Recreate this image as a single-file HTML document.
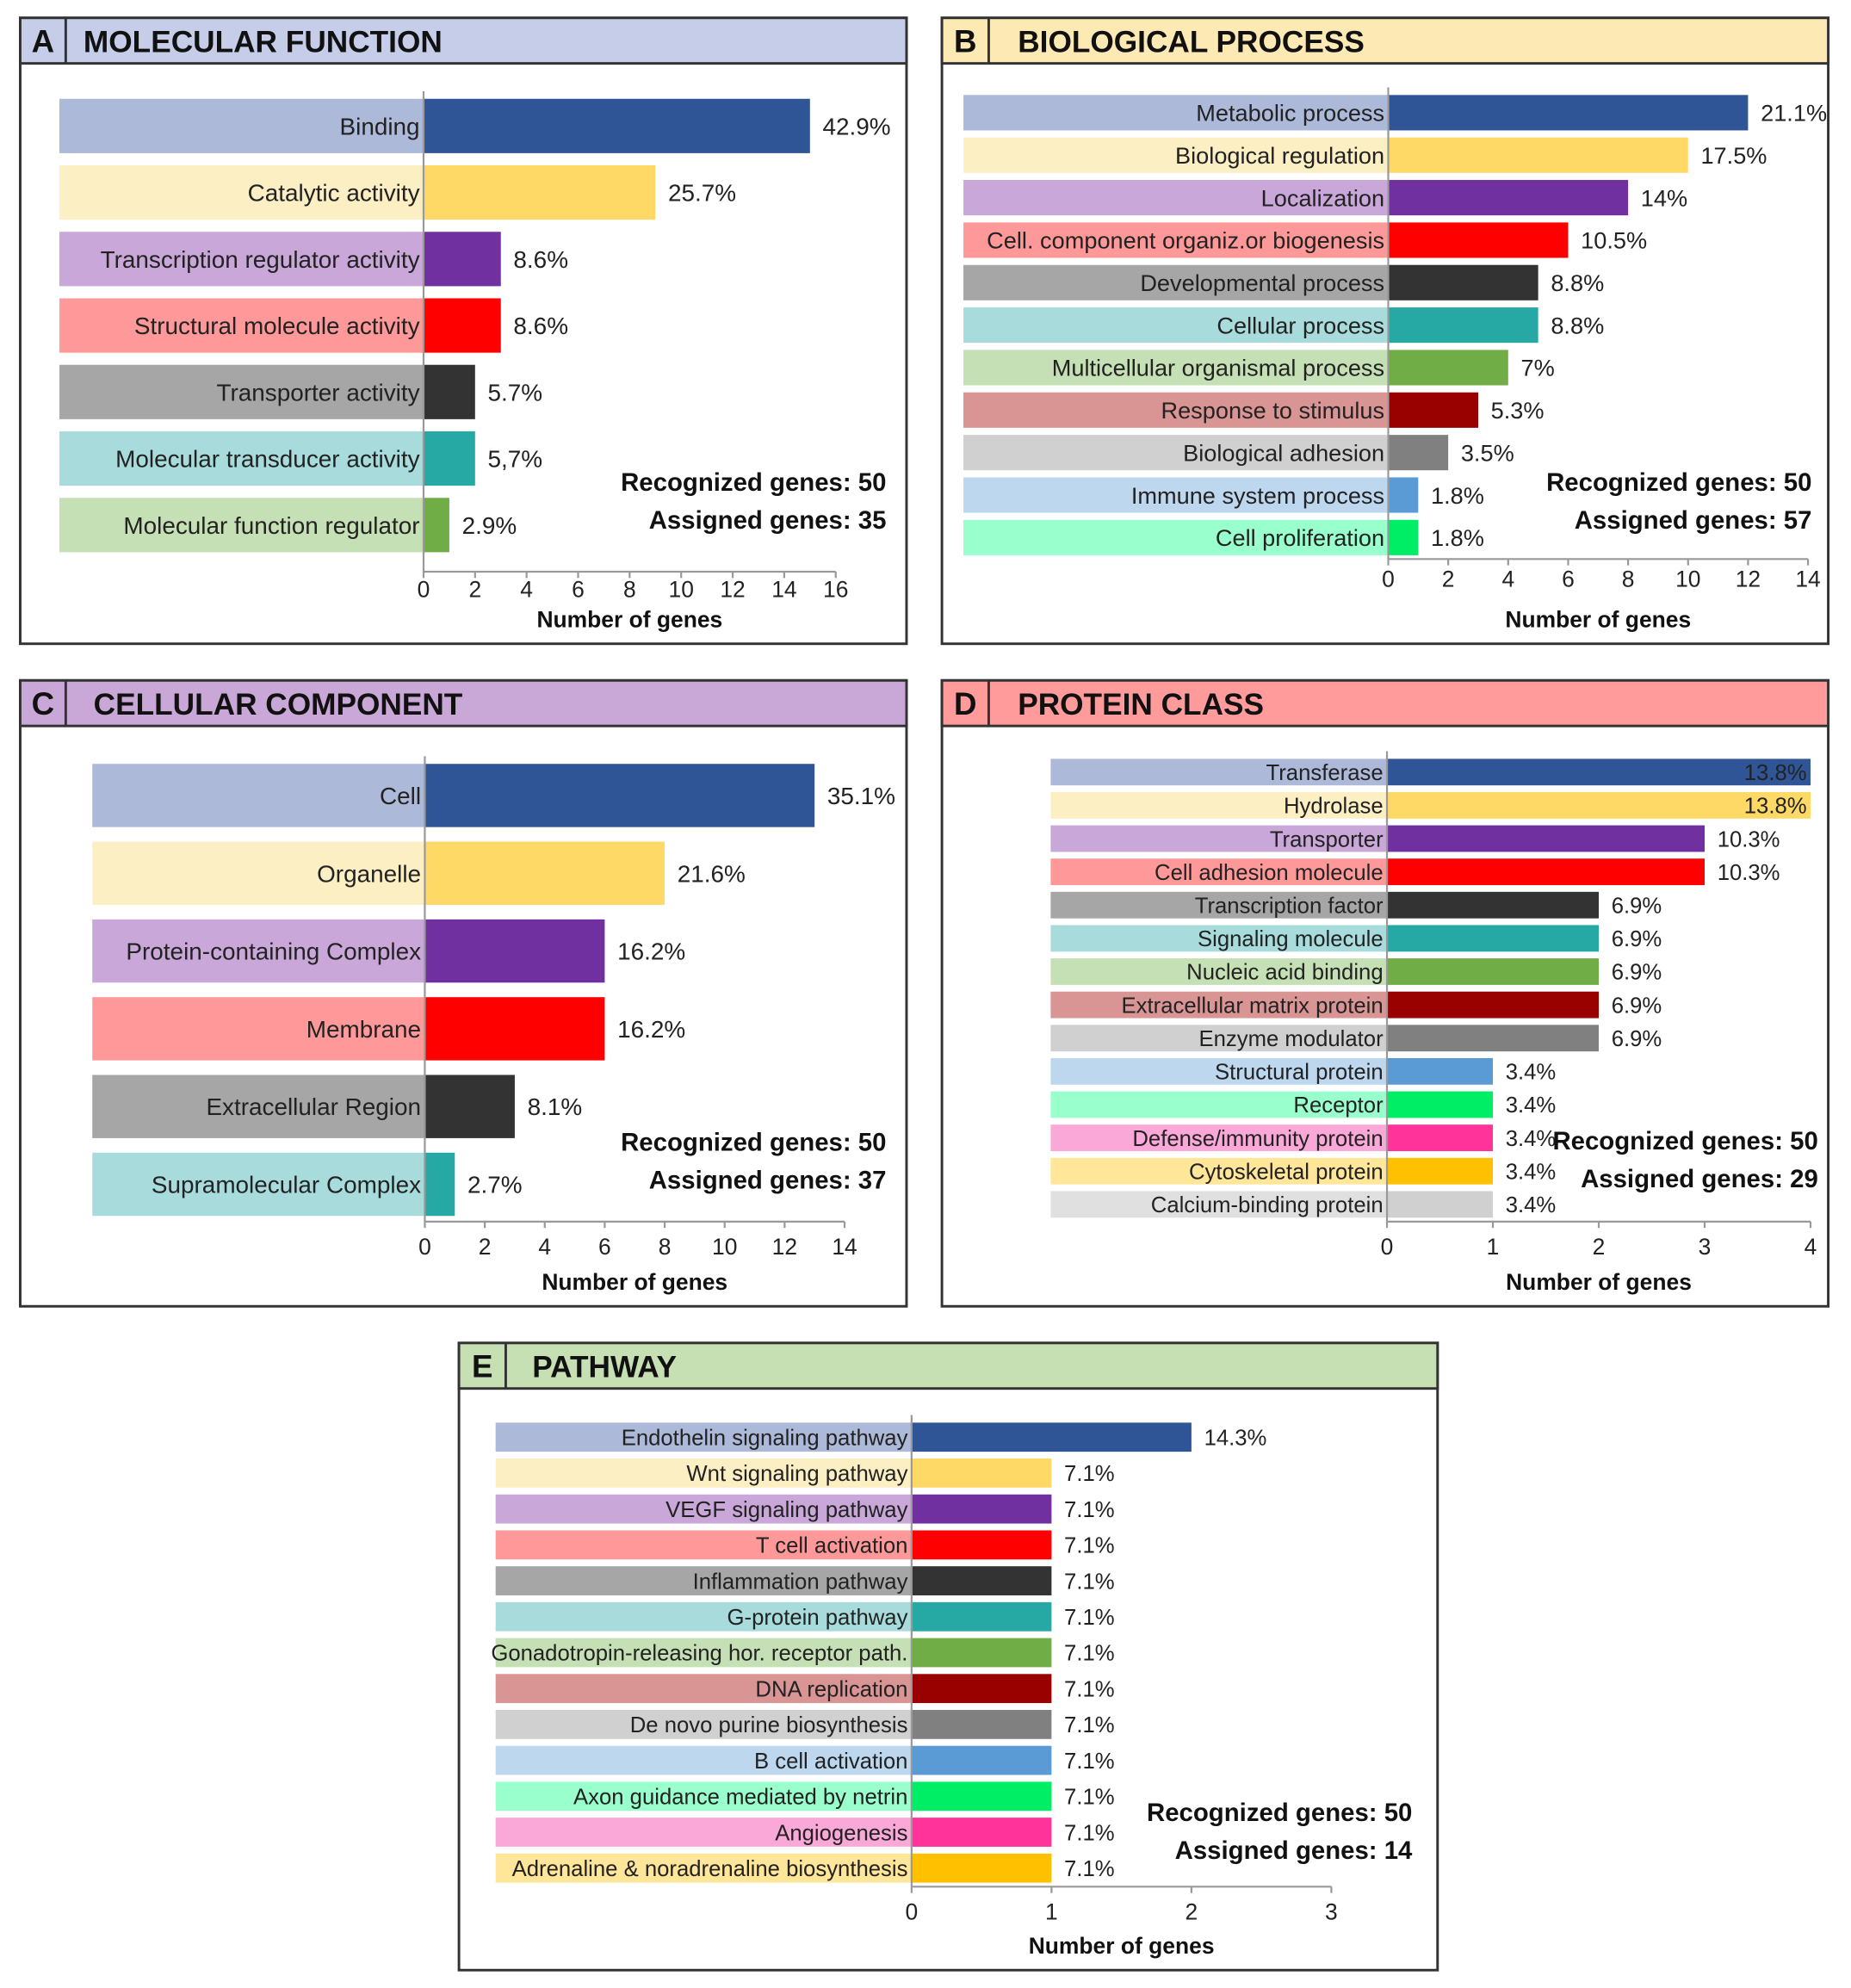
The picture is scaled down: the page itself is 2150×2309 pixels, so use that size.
<!DOCTYPE html>
<html><head><meta charset="utf-8"><style>
html,body{margin:0;padding:0;background:#fff;}
svg{display:block;font-family:"Liberation Sans",sans-serif;}
</style></head><body>
<svg id="fig" width="2150" height="2309" viewBox="0 0 1464 1572" xmlns="http://www.w3.org/2000/svg"></svg>
<script>
const aCats=["Binding","Catalytic activity","Transcription regulator activity","Structural molecule activity","Transporter activity","Molecular transducer activity","Molecular function regulator"];
const aVals=[15,9,3,3,2,2,1];
const aPcts=["42.9%","25.7%","8.6%","8.6%","5.7%","5,7%","2.9%"];
const aTicks=[0,2,4,6,8,10,12,14,16];
const bCats=["Metabolic process","Biological regulation","Localization","Cell. component organiz.or biogenesis","Developmental process","Cellular process","Multicellular organismal process","Response to stimulus","Biological adhesion","Immune system process","Cell proliferation"];
const bVals=[12,10,8,6,5,5,4,3,2,1,1];
const bPcts=["21.1%","17.5%","14%","10.5%","8.8%","8.8%","7%","5.3%","3.5%","1.8%","1.8%"];
const bTicks=[0,2,4,6,8,10,12,14];
const cCats=["Cell","Organelle","Protein-containing Complex","Membrane","Extracellular Region","Supramolecular Complex"];
const cVals=[13,8,6,6,3,1];
const cPcts=["35.1%","21.6%","16.2%","16.2%","8.1%","2.7%"];
const cTicks=[0,2,4,6,8,10,12,14];
const dCats=["Transferase","Hydrolase","Transporter","Cell adhesion molecule","Transcription factor","Signaling molecule","Nucleic acid binding","Extracellular matrix protein","Enzyme modulator","Structural protein","Receptor","Defense/immunity protein","Cytoskeletal protein","Calcium-binding protein"];
const dVals=[4,4,3,3,2,2,2,2,2,1,1,1,1,1];
const dPcts=["13.8%","13.8%","10.3%","10.3%","6.9%","6.9%","6.9%","6.9%","6.9%","3.4%","3.4%","3.4%","3.4%","3.4%"];
const dTicks=[0,1,2,3,4];
const eCats=["Endothelin signaling pathway","Wnt signaling pathway","VEGF signaling pathway","T cell activation","Inflammation pathway","G-protein pathway","Gonadotropin-releasing hor. receptor path.","DNA replication","De novo purine biosynthesis","B cell activation","Axon guidance mediated by netrin","Angiogenesis","Adrenaline & noradrenaline biosynthesis"];
const eVals=[2,1,1,1,1,1,1,1,1,1,1,1,1];
const ePcts=["14.3%","7.1%","7.1%","7.1%","7.1%","7.1%","7.1%","7.1%","7.1%","7.1%","7.1%","7.1%","7.1%"];
const eTicks=[0,1,2,3];

const barCol=["#2f5597","#ffd966","#7030a0","#ff0000","#333333","#26a9a5","#70ad47","#990000","#808080","#5b9bd5","#00ee66","#ff3399","#ffc000","#d0d0d0"];
const labCol=["#adb9d9","#fdefc4","#c9a7d8","#ff9999","#a6a6a6","#a8dcdc","#c5e0b4","#d99594","#d0d0d0","#bdd7ee","#99ffcc","#f9a8d8","#ffe699","#e0e0e0"];
const NS="http://www.w3.org/2000/svg";
const svg=document.getElementById('fig');
function mk(tag,attrs,parent,text){const e=document.createElementNS(NS,tag);for(const k in attrs)e.setAttribute(k,attrs[k]);if(text!==undefined)e.textContent=text;(parent||svg).appendChild(e);return e;}

const panels=[
 {id:"a",L:"A",title:"MOLECULAR FUNCTION",hbg:"#c5cde8",box:[16,14,701,495],cats:aCats,vals:aVals,pcts:aPcts,ticks:aTicks,x0:335,x1:661,lab0:47,top:78,step:52.6,bh:43,fs:19,axisY:452,tickY:472,titleY:496,rec:[701,388,418],assigned:35,tOff:50,div:36},
 {id:"b",L:"B",title:"BIOLOGICAL PROCESS",hbg:"#fde9b4",box:[745,14,701,495],cats:bCats,vals:bVals,pcts:bPcts,ticks:bTicks,x0:1098,x1:1430,lab0:762,top:75,step:33.6,bh:28,fs:18.5,axisY:442,tickY:464,titleY:496,rec:[1433,388,418],assigned:57,tOff:60,div:37},
 {id:"c",L:"C",title:"CELLULAR COMPONENT",hbg:"#c9a8d8",box:[16,538,701,495],cats:cCats,vals:cVals,pcts:cPcts,ticks:cTicks,x0:336,x1:668,lab0:73,top:604,step:61.5,bh:50,fs:19,axisY:966,tickY:992,titleY:1020,rec:[701,910,940],assigned:37,tOff:58,div:36},
 {id:"d",L:"D",title:"PROTEIN CLASS",hbg:"#ff9b9b",box:[745,538,701,495],cats:dCats,vals:dVals,pcts:dPcts,ticks:dTicks,x0:1097,x1:1432,lab0:831,top:600,step:26.3,bh:21,fs:17.5,axisY:966,tickY:992,titleY:1020,rec:[1438,909,939],assigned:29,tOff:60,div:37},
 {id:"e",L:"E",title:"PATHWAY",hbg:"#c6e0b4",box:[363,1062,774,496],cats:eCats,vals:eVals,pcts:ePcts,ticks:eTicks,x0:721,x1:1053,lab0:392,top:1125,step:28.4,bh:23,fs:17.5,axisY:1492,tickY:1518,titleY:1545,rec:[1117,1440,1470],assigned:14,tOff:58,div:37}
];

panels.forEach(p=>{
 const g=mk('g',{});
 
 
 const [bx,by,bw,bhh]=p.box;
 const fr=mk('rect',{x:bx,y:by,width:bw,height:bhh,fill:'#fff',stroke:'#333',"stroke-width":2},g);
 
 
 const hd=mk('rect',{x:bx,y:by,width:bw,height:36,fill:p.hbg,stroke:'#333',"stroke-width":2},g);
 
 
 mk('line',{x1:bx+p.div,y1:by,x2:bx+p.div,y2:by+36,stroke:'#333',"stroke-width":2},g);
 const lt=mk('text',{x:bx+p.div/2,y:by+27,"text-anchor":"middle","font-size":25,"font-weight":"bold",fill:'#111'},g,p.L);
 
 
 const tt=mk('text',{x:bx+p.tOff,y:by+27,"font-size":24,"font-weight":"bold",fill:'#111'},g,p.title);
 
 
 const maxT=p.ticks[p.ticks.length-1];
 const sx=v=>p.x0+(p.x1-p.x0)*v/maxT;
 p.cats.forEach((c,i)=>{
  const y=p.top+i*p.step;
  const lr=mk('rect',{x:p.lab0,y:y,width:p.x0-p.lab0,height:p.bh,fill:labCol[i]},g);
  
  
  const lx=mk('text',{x:p.x0-3,y:y+p.bh/2+p.fs*0.36,"text-anchor":"end","font-size":p.fs,fill:'#222'},g,c);
  
  
  const w=sx(p.vals[i])-p.x0;
  const br=mk('rect',{x:p.x0,y:y,width:w,height:p.bh,fill:barCol[i]},g);
  
  
  const inside=sx(p.vals[i])+60>bx+bw;
  const pt=mk('text',{x:inside?sx(p.vals[i])-3:sx(p.vals[i])+10,y:y+p.bh/2+p.fs*0.36,"text-anchor":inside?"end":"start","font-size":p.fs,fill:'#222'},g,p.pcts[i]);
  
  
 });
 mk('line',{x1:p.x0,y1:p.top-6,x2:p.x0,y2:p.axisY,stroke:'#999',"stroke-width":1.5},g);
 const ax=mk('line',{x1:p.x0,y1:p.axisY,x2:p.x1,y2:p.axisY,stroke:'#999',"stroke-width":1.5},g);
 
 
 p.ticks.forEach(t=>{
  mk('line',{x1:sx(t),y1:p.axisY,x2:sx(t),y2:p.axisY+5,stroke:'#999',"stroke-width":1.5},g);
  const tl=mk('text',{x:sx(t),y:p.tickY,"text-anchor":"middle","font-size":18,fill:'#222'},g,String(t));
  
  
 });
 const xt=mk('text',{x:(p.x0+p.x1)/2,y:p.titleY,"text-anchor":"middle","font-size":18,"font-weight":"bold",fill:'#111'},g,"Number of genes");
 
 
 const r1=mk('text',{x:p.rec[0],y:p.rec[1],"text-anchor":"end","font-size":20,"font-weight":"bold",fill:'#111'},g,"Recognized genes: 50");
 
 
 const r2=mk('text',{x:p.rec[0],y:p.rec[2],"text-anchor":"end","font-size":20,"font-weight":"bold",fill:'#111'},g,"Assigned genes: "+p.assigned);
 
 
});
</script>
</body></html>
